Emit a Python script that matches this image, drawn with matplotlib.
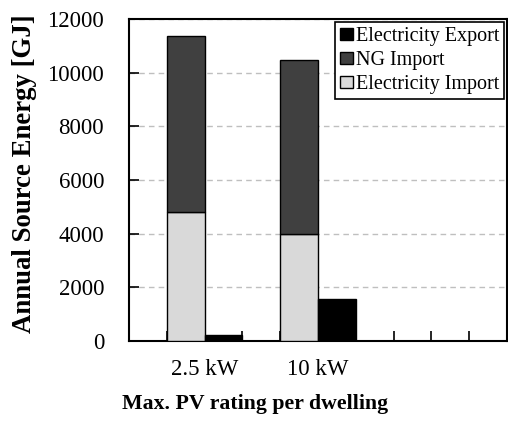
import matplotlib
matplotlib.use("Agg")
import matplotlib.pyplot as plt
from matplotlib.patches import Patch
import numpy as np

plt.rcParams['font.family'] = ['Liberation Serif', 'DejaVu Serif']

categories = ["2.5 kW", "10 kW"]
elec_import = [4820, 3980]
ng_import = [6530, 6500]
elec_export = [230, 1580]

# slot positions on a 10-slot category axis
stack_pos = np.array([1.5, 4.5])
export_pos = stack_pos + 1
label_pos = stack_pos + 0.5

fig = plt.figure(figsize=(5.08, 4.21), dpi=100)
ax = fig.add_axes([0.254, 0.19, 0.744, 0.765])

c_imp = '#d9d9d9'
c_ng = '#404040'
c_exp = '#000000'

ax.bar(stack_pos, elec_import, width=1.0, color=c_imp, edgecolor='black', linewidth=1, zorder=3)
ax.bar(stack_pos, ng_import, width=1.0, bottom=elec_import, color=c_ng, edgecolor='black', linewidth=1, zorder=3)
ax.bar(export_pos, elec_export, width=1.0, color=c_exp, edgecolor='black', linewidth=1, zorder=3)

ax.set_xlim(0, 10)
ax.set_ylim(0, 12000)
ax.set_yticks(np.arange(0, 12001, 2000))
ax.yaxis.grid(True, linestyle=(0, (4, 3)), color='#bfbfbf', linewidth=1, zorder=0)

ax.xaxis.remove_overlapping_locs = False
ax.set_xticks(np.arange(0, 11, 1))
ax.set_xticklabels([])
ax.set_xticks(label_pos, minor=True)
ax.set_xticklabels(categories, minor=True)
ax.tick_params(axis='x', which='major', direction='in', length=7, width=1.2)
ax.tick_params(axis='x', which='minor', length=0, pad=13, labelsize=16.5)
ax.tick_params(axis='y', direction='in', length=7, width=1.2, pad=18, labelsize=16.5)

for s in ax.spines.values():
    s.set_linewidth(1.5)
    s.set_color('black')

ax.set_ylabel("Annual Source Energy [GJ]", fontsize=19.3, fontweight='bold')
ax.yaxis.set_label_coords(-0.243, 0.52)
fig.text(0.503, 0.04, "Max. PV rating per dwelling", fontsize=15.7, fontweight='bold',
         ha='center', va='center')

handles = [Patch(facecolor=c_exp, edgecolor='black', label='Electricity Export'),
           Patch(facecolor=c_ng, edgecolor='black', label='NG Import'),
           Patch(facecolor=c_imp, edgecolor='black', label='Electricity Import')]
leg = ax.legend(handles=handles, loc='upper right', fontsize=14.5, frameon=True, fancybox=False,
                handlelength=0.6, handleheight=0.6, handletextpad=0.15, borderaxespad=0.15,
                labelspacing=0.25, borderpad=0.25, framealpha=1)
leg.get_frame().set_edgecolor('black')
leg.get_frame().set_linewidth(1.2)

fig.savefig("out.png", dpi=100)
